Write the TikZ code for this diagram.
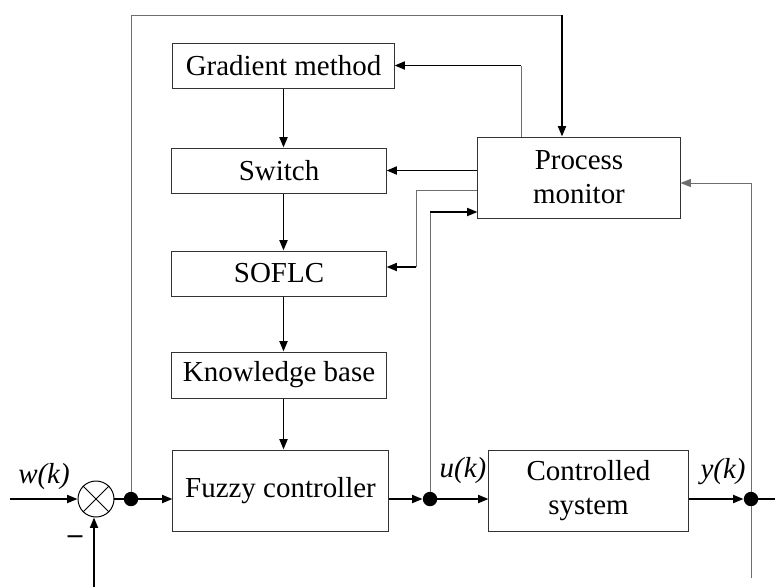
\documentclass[tikz,border=0pt]{standalone}
\usepackage{fontspec}
\setmainfont{Liberation Serif}
\usetikzlibrary{arrows.meta, positioning, calc}
\definecolor{fb_gray}{RGB}{110, 110, 110}

\begin{document}
\begin{tikzpicture}[
    x=0.025cm, y=-0.025cm,
    >={Triangle[length=2.6mm, width=2mm]},
    font=\fontsize{20.6}{24}\selectfont,
    block/.style={rectangle, draw=black!80, line width=0.7pt,
                  minimum width=5.35cm, minimum height=1.125cm, inner sep=0pt},
    big/.style={block, minimum height=2.025cm, align=center},
    sig/.style={line width=1.3pt},
    fb/.style={line width=0.7pt, fb_gray},
    dot/.style={circle, fill=black, minimum size=0.36cm, inner sep=0pt},
    lbl/.style={font=\fontsize{20.6}{24}\selectfont\itshape},
  ]
  \useasboundingbox (0,0) rectangle (775,587);

  % blocks
  \node[block, minimum width=5.525cm] (grad) at (283.5,65.5) {Gradient method};
  \node[block]  (sw)    at (279,170.5) {Switch};
  \node[block]  (soflc) at (279,273.5) {SOFLC};
  \node[block, minimum height=1.15cm] (kb) at (279,375) {Knowledge base};
  \node[big, minimum width=5.375cm] (fc) at (280.5,490.5) {Fuzzy controller};
  \node[big, minimum width=5.05cm]  (pm) at (579,177.5) {Process\\monitor};
  \node[big, minimum width=4.975cm] (cs) at (588.5,490.5) {Controlled\\system};

  % summing point and branch dots
  \node[circle, draw, line width=0.7pt, minimum size=0.9cm, inner sep=0pt] (sum) at (96,499) {};
  \draw[line width=0.7pt] (sum.north west) -- (sum.south east);
  \draw[line width=0.7pt] (sum.north east) -- (sum.south west);
  \node[dot] (d1) at (131,499) {};
  \node[dot] (du) at (430,499) {};
  \node[dot] (dy) at (751,499) {};

  \coordinate (in)   at (10,499);
  \coordinate (out)  at (775,499);
  \coordinate (fbin) at (94,587);

  % forward path
  \draw[sig, ->] (in) -- (sum.west);
  \draw[sig] (sum.east) -- (d1);
  \draw[sig, ->] (d1) -- (fc.west |- d1);
  \draw[sig, ->] (fc.east |- du) -- (du);
  \draw[sig, ->] (du) -- (cs.west |- du);
  \draw[sig, ->] (cs.east |- dy) -- (dy);
  \draw[sig] (dy) -- (out);
  \draw[sig, ->] (fbin) -- (fbin |- sum.south);

  % chain of blocks
  \draw[sig, ->] (grad.south) -- (grad.south |- sw.north);
  \draw[sig, ->] (sw.south -| grad.south) -- (soflc.north -| grad.south);
  \draw[sig, ->] (soflc.south -| grad.south) -- (kb.north -| grad.south);
  \draw[sig, ->] (kb.south -| grad.south) -- (fc.north -| grad.south);

  % top loop to the monitor
  \coordinate (t1) at (131,15);
  \coordinate (t2) at (562,15);
  \draw[fb] (d1) -- (t1) -- (t2);
  \draw[sig, ->] (t2) -- (t2 |- pm.north);

  % monitor outputs
  \coordinate (g1) at (521,65.5);
  \draw[fb] (g1 |- pm.north) -- (g1);
  \draw[sig, ->] (g1) -- (grad.east);
  \draw[sig, ->] (pm.west |- sw.east) -- (sw.east);
  \coordinate (s1) at (416,190);
  \coordinate (s2) at (416,267);
  \draw[fb] (pm.west |- s1) -- (s1) -- (s2);
  \draw[sig, ->] (s2) -- (soflc.east |- s2);

  % monitor inputs
  \coordinate (u1) at (430,212);
  \draw[fb] (du) -- (u1);
  \draw[sig, ->] (u1) -- (pm.west |- u1);
  \coordinate (y1) at (751,183);
  \coordinate (y2) at (751,578);
  \draw[fb] (dy) -- (y1);
  \draw[fb, ->] (y1) -- (pm.east |- y1);
  \draw[fb] (dy) -- (y2);

  % labels
  \node[lbl] (wlab) at (44,477) {w(k)};
  \node[lbl] (ulab) at (463,471) {u(k)};
  \node[lbl] (ylab) at (723,472) {y(k)};
  \node (minus) at (75,540) {\bfseries –};
\end{tikzpicture}
\end{document}
